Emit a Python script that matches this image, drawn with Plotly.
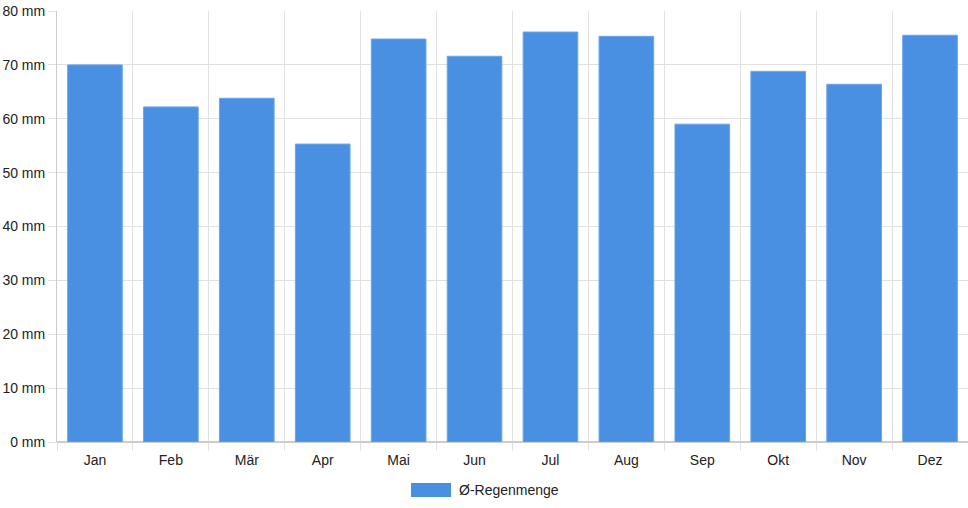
import plotly.graph_objects as go

# Monthly average rainfall (mm)
months = ["Jan", "Feb", "Mär", "Apr", "Mai", "Jun", "Jul", "Aug", "Sep", "Okt", "Nov", "Dez"]
rain_mm = [70.0, 62.2, 63.8, 55.3, 74.8, 71.6, 76.1, 75.3, 59.0, 68.8, 66.4, 75.5]
series_name = "Ø-Regenmenge"

bar_color = "#4a90e2"
grid_color = "#e1e1e1"
font = dict(family="Liberation Sans, Arial, sans-serif", size=14, color="#222222")

fig = go.Figure()
fig.add_trace(go.Bar(
    x=months,
    y=rain_mm,
    name=series_name,
    marker=dict(color=bar_color, line=dict(color="#6aa6ea", width=1)),
    showlegend=False,
))

# Legend drawn by hand (wide swatch like the original)
fig.add_shape(type="rect", xref="paper", yref="paper",
              x0=0.3886, x1=0.4325, y0=-0.1276, y1=-0.0951,
              fillcolor=bar_color, line=dict(width=0))
fig.add_annotation(text=series_name, xref="paper", yref="paper",
                   x=0.4390, y=-0.1114, xanchor="left", yanchor="middle",
                   showarrow=False, font=font)

fig.update_layout(
    width=968, height=508,
    margin=dict(l=57, r=0, t=11, b=66),
    plot_bgcolor="white", paper_bgcolor="white",
    font=font,
    bargap=0.28,
    xaxis=dict(
        type="category", tickson="boundaries",
        showgrid=True, gridcolor=grid_color,
        ticks="outside", ticklen=8, tickcolor=grid_color,
        ticklabelstandoff=8,
        showline=False, tickfont=font,
    ),
    yaxis=dict(
        range=[0, 80], dtick=10, ticksuffix=" mm",
        showgrid=True, gridcolor=grid_color,
        ticks="outside", ticklen=8, tickcolor=grid_color,
        showline=True, linecolor="#cccccc",
        zeroline=True, zerolinecolor="#cccccc",
        tickfont=font,
    ),
)

# drop the default page margin so the figure fills the window exactly
fig.write_html("out.html", config={"displayModeBar": False},
               post_script="document.body.style.margin='0';")
